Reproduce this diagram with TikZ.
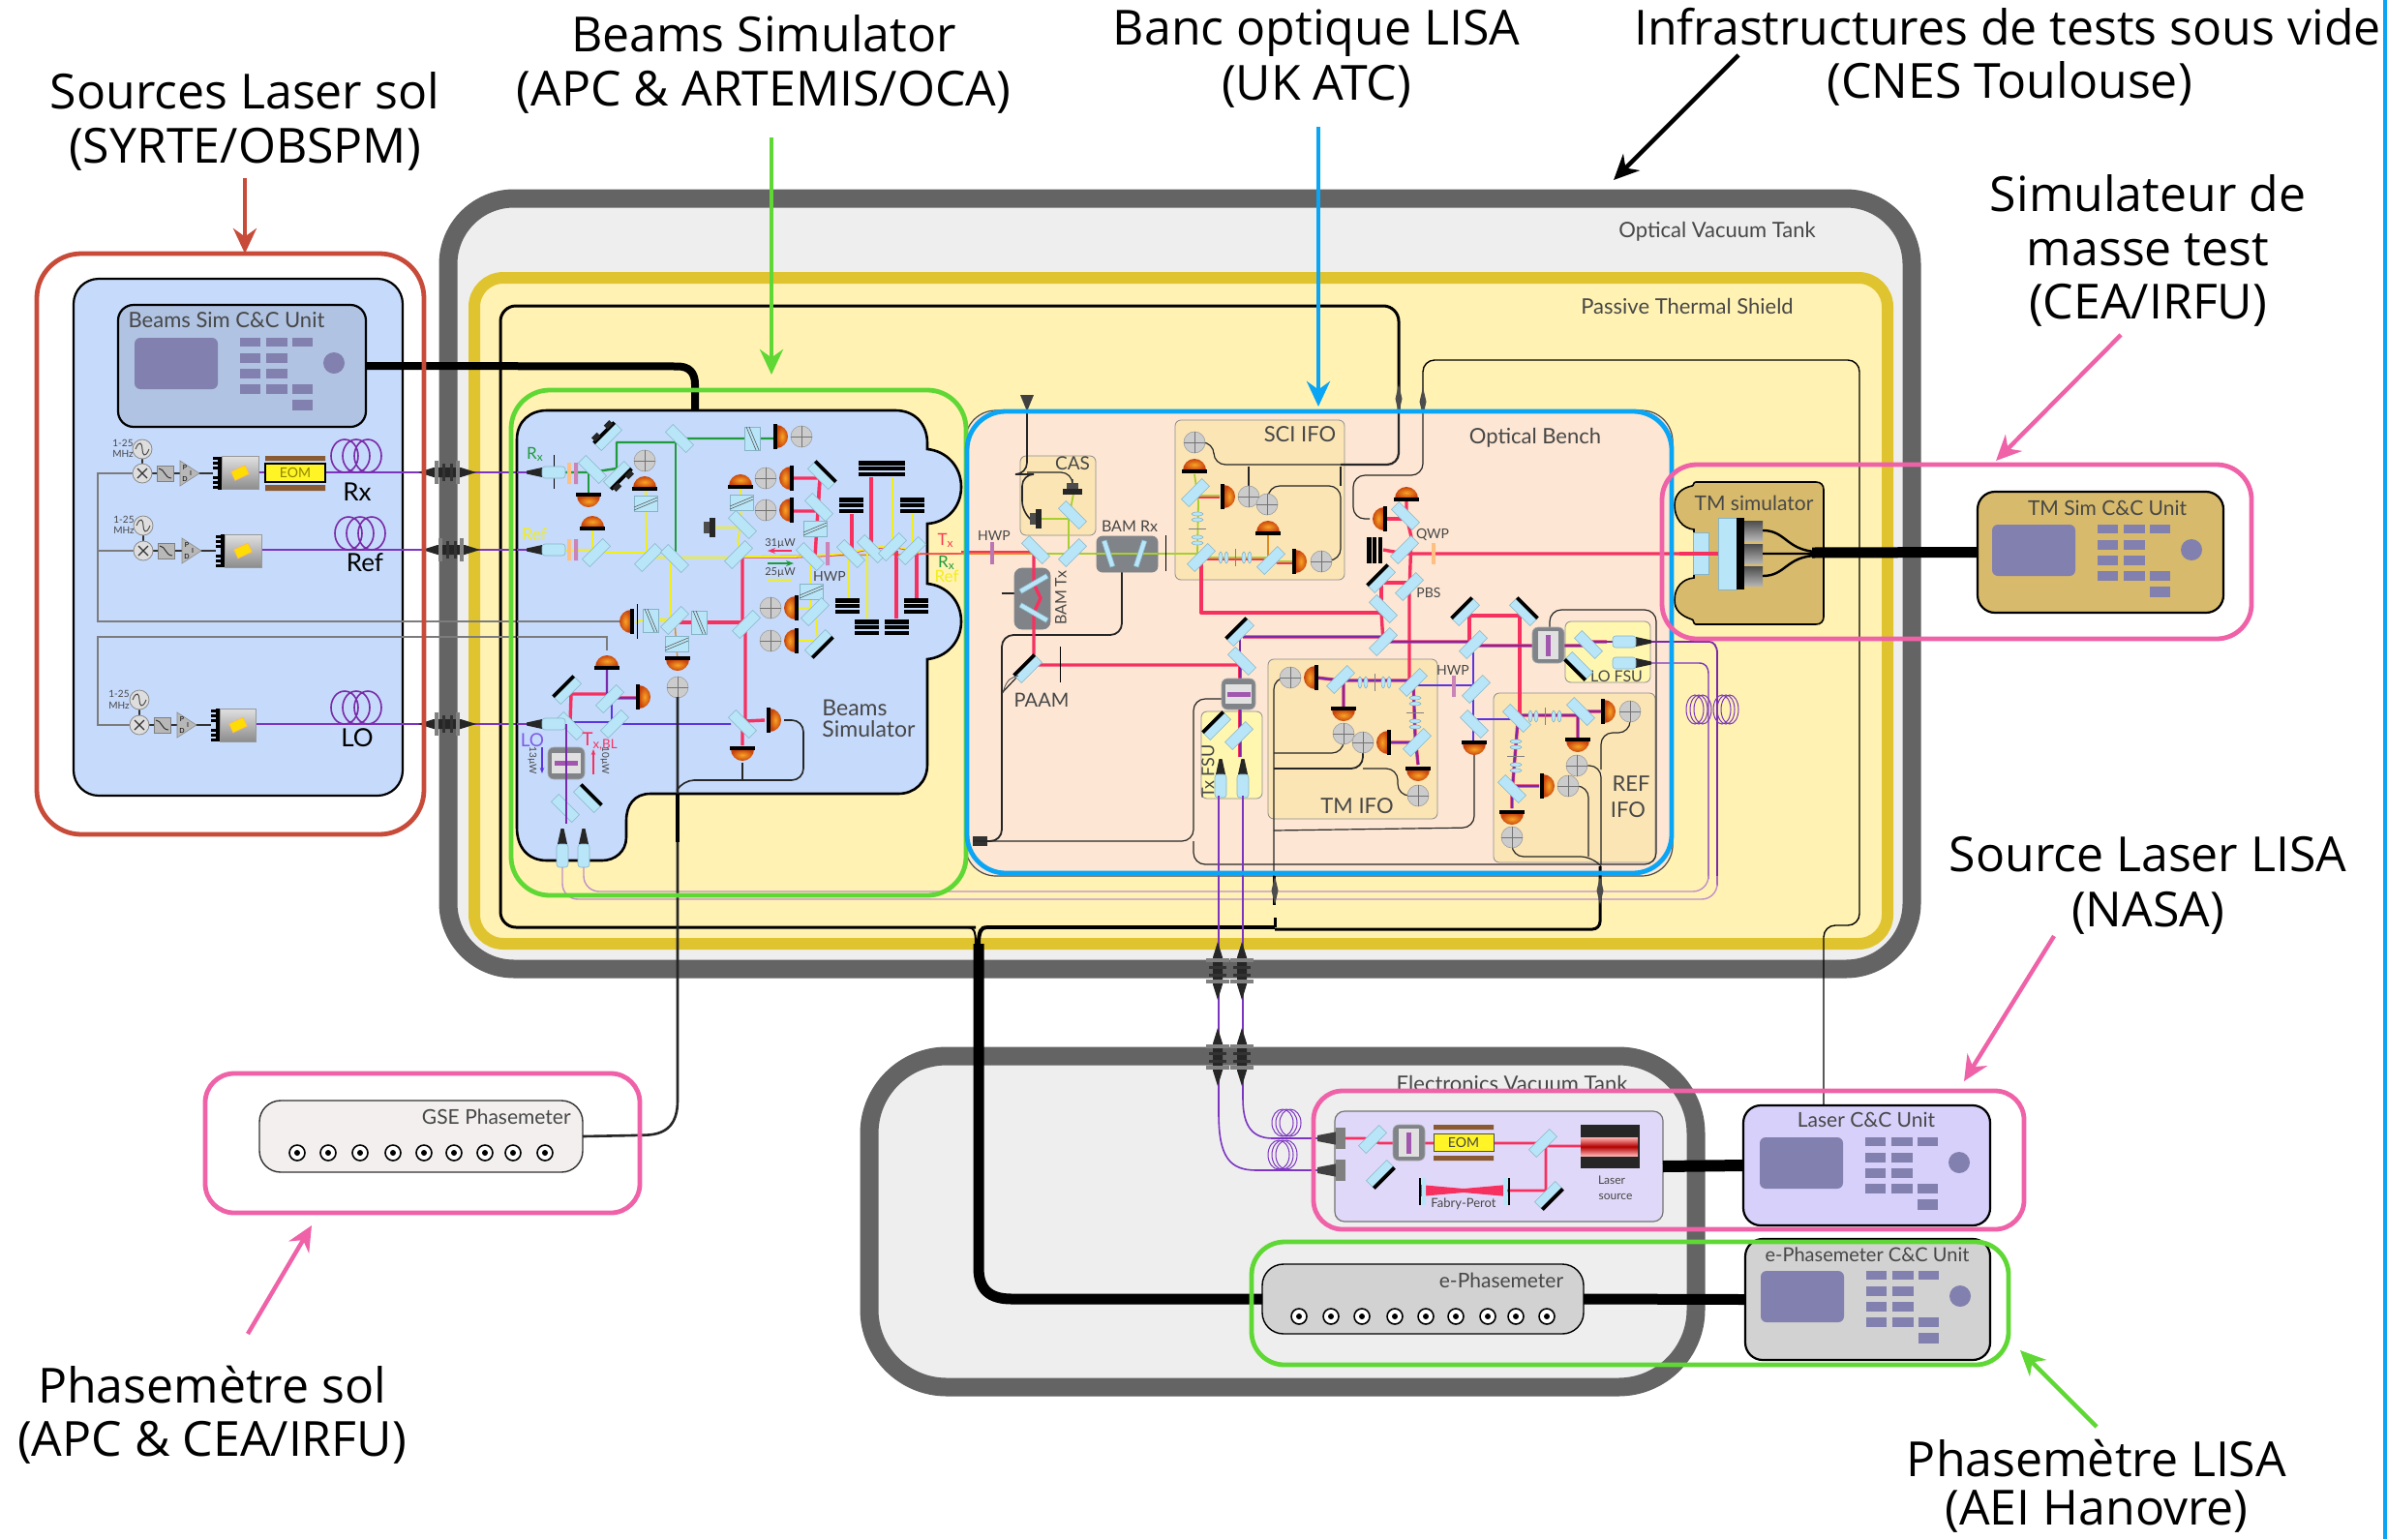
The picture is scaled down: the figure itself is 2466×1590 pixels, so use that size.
\documentclass[tikz,border=0pt]{standalone}
\usepackage{fontspec}
\setmainfont{Lato}
\newfontfamily\titlefont{Open Sans}
\usetikzlibrary{fit,arrows.meta,calc}
\definecolor{tank}{HTML}{646464}\definecolor{tankf}{HTML}{EEEEEE}
\definecolor{shield}{HTML}{E0C42F}\definecolor{shieldf}{HTML}{FFF2B3}
\definecolor{bluebox}{HTML}{C6DAFB}\definecolor{ccblue}{HTML}{B0C3E2}
\definecolor{keyc}{HTML}{8280AE}\definecolor{bench}{HTML}{FDE6D3}
\definecolor{ifo}{HTML}{FBE5B5}\definecolor{fsu}{HTML}{FFF7B0}
\definecolor{tmc}{HTML}{D7BA6B}\definecolor{lasb}{HTML}{E0D8F8}\definecolor{lascc}{HTML}{D7D0FA}
\definecolor{phc}{HTML}{D2D2D2}\definecolor{gsef}{HTML}{F2EFEE}
\definecolor{outR}{HTML}{C84B3A}\definecolor{outG}{HTML}{5FD835}\definecolor{outB}{HTML}{0AA5F5}\definecolor{outP}{HTML}{EF62A8}
\definecolor{cy}{HTML}{B8E6F8}\definecolor{cyb}{HTML}{86B4C6}
\definecolor{bR}{HTML}{F7315F}\definecolor{bY}{HTML}{F2EE1A}\definecolor{bG}{HTML}{1E9B3C}\definecolor{bP}{HTML}{7A2AA8}\definecolor{bB}{HTML}{5B35E0}\definecolor{bO}{HTML}{E08A1E}\definecolor{bL}{HTML}{A8CF30}
\definecolor{fib}{HTML}{7B35C0}\definecolor{fibp}{HTML}{C08FCB}\definecolor{gl}{HTML}{7C7C7C}\definecolor{brn}{HTML}{8A5A32}
\definecolor{modg}{HTML}{808488}
\tikzset{
 tankbox/.style={draw=tank,line width=9.5pt,fill=tankf},
 outline/.style={line width=2.4pt,rounded corners=17pt},
 unit/.style={draw=black,line width=1.1pt},
 thin box/.style={draw=black!45,line width=.4pt,rounded corners=3pt},
 bsf/.style={fill=cy,draw=cyb,line width=.3pt},
 cable/.style={draw=black!85,line width=.6pt,rounded corners=6pt},
 midcable/.style={draw=black,line width=1.5pt,rounded corners=8pt},
 bigcable/.style={draw=black,line width=5.5pt},
 fibre/.style={draw=fib,line width=.7pt,rounded corners=10pt},
 fibrep/.style={draw=fibp,line width=.7pt,rounded corners=8pt},
 grayl/.style={draw=gl,line width=.8pt},
 bred/.style={draw=bR,line width=1.7pt,line join=round},
 byel/.style={draw=bY,line width=.9pt,line join=round},
 bgrn/.style={draw=bG,line width=1.2pt,line join=round},
 bpur/.style={draw=bP,line width=1.1pt,line join=round},
 bblu/.style={draw=bB,line width=.8pt,line join=round},
 borg/.style={draw=bO,line width=.7pt,line join=round},
 blim/.style={draw=bL,line width=.9pt,line join=round},
 lab/.style={font=\fontsize{11}{11}\selectfont,text=black!72,inner sep=0},
 big/.style={font=\titlefont\fontsize{25}{25}\selectfont,text=black,inner sep=0,text height=24.6pt,text depth=6pt},
 call/.style={line width=2.2pt,-{Stealth[length=13pt,width=12pt]}},
}
\newcounter{lc}
\newcommand\LB[3][]{\stepcounter{lc}\node[lab,#1] (lb\thelc) at (#2) {#3};}
\newcommand\BG[2]{\stepcounter{lc}\node[big] (lb\thelc) at (#1) {#2};}
\newcommand\BOX[6][]{\path (#3,#4) coordinate (#2-a) (#5,#6) coordinate (#2-b);
 \node[inner sep=0,outer sep=0,fit=(#2-a)(#2-b),#1] (#2) {};}
\newcommand\BS[3]{\path[bsf,shift={(#1,#2)},rotate=#3] (-15,-5.5) rectangle (15,5.5);}
\newcommand\MR[3]{\begin{scope}[shift={(#1,#2)},rotate=#3]\path[bsf] (-15,-5.5) rectangle (15,5.5);\draw[line width=1.9pt] (-15,5.5)--(15,5.5);\end{scope}}
\newcommand\MP[3]{\begin{scope}[shift={(#1,#2)},rotate=#3]\path[bsf] (-15,-5.5) rectangle (15,5.5);\draw[line width=1.9pt] (-15,5.5)--(15,5.5);\fill[black!85] (-13,5.5) rectangle (-5,11) (5,5.5) rectangle (13,11);\end{scope}}
\definecolor{F7A325}{HTML}{F7A325}\definecolor{C8420C}{HTML}{C8420C}
\newcommand\PD[3]{\begin{scope}[shift={(#1,#2)},rotate=#3]
 \shade[inner color=F7A325,outer color=C8420C] (-12,5) arc[start angle=180,end angle=360,radius=12] -- cycle;
 \fill (-13,4) rectangle (13,8);\end{scope}}
\newcommand\QD[2]{\begin{scope}[shift={(#1,#2)}]\filldraw[fill=black!20,draw=black!38,line width=.3pt] (0,0) circle[radius=11];
 \draw[black!55,line width=.3pt] (-11,0)--(11,0) (0,-11)--(0,11);\end{scope}}
\newcommand\WG[3]{\begin{scope}[shift={(#1,#2)},rotate=#3]\path[bsf] (-12,-8) rectangle (12,8);
 \draw[black!65,line width=.3pt] (-12,4)--(12,-6) (-12,7)--(12,-3);\end{scope}}
\newcommand\LS[3]{\begin{scope}[shift={(#1,#2)},rotate=#3]
 \foreach \o in {-16,-10,8,14}{\path[bsf] (\o,0) ellipse[x radius=2,y radius=6];}
 \draw[black!50,line width=.3pt] (-1,-9)--(-1,9);\end{scope}}
\newcommand\CM[3]{\begin{scope}[shift={(#1,#2)},rotate=#3]\fill[black!85] (-6,-10) rectangle (0,10);\fill[black!70] (0,-6) rectangle (6,6);\end{scope}}
\newcommand\DPH[3]{\foreach \o in {-8,-2.2,3.6}{\fill ($(#1,#2)+(-#3/2,\o)$) rectangle ($(#1,#2)+(#3/2,\o+4.6)$);}}
\newcommand\DPV[3]{\foreach \o in {-8,-2.2,3.6}{\fill ($(#1,#2)+(\o,-#3/2)$) rectangle ($(#1,#2)+(\o+4.6,#3/2)$);}}
\newcommand\CPL[3]{\begin{scope}[shift={(#1,#2)},rotate=#3]\fill[black!85] (-16,-1.5)--(0,-5)--(0,5)--(-16,1.5)--cycle;
 \path[bsf,rounded corners=1.5pt] (0,-6) rectangle (24,6);\end{scope}}
\newcommand\FT[3]{\begin{scope}[shift={(#1,#2)},rotate=#3]
 \fill[black!85] (-30,0)--(-14,-5)--(14,-5)--(30,0)--(14,5)--(-14,5)--cycle;
 \foreach \o in {-11,11}{\fill[black!50] (\o-2,-12) rectangle (\o+2,12);}
 \foreach \o in {-4,4}{\fill[black!80] (\o-1.5,-9) rectangle (\o+1.5,9);}
 \end{scope}}
\newcommand\SP[2]{\fill[black!70] (#1,#2-15)--(#1+3.5,#2)--(#1,#2+15)--(#1-3.5,#2)--cycle;}
\newcommand\COIL[5][bP]{\foreach \o in {-#4,0,#4}{\draw[#1,line width=.8pt] ($(#2,#3)+(\o,0)$) ellipse[x radius=#5,y radius=17];}}
\newcommand\COILS[4]{\foreach \o in {-4,0,4}{\draw[fib,line width=.5pt] ($(#1,#2)+(\o,0)$) ellipse[x radius=#3,y radius=#4];}}
\newcommand\PANEL[2]{\begin{scope}[shift={(#1,#2)}]
 \fill[keyc,rounded corners=3pt] (0,0) rectangle (86,53);
 \foreach \a/\b/\c/\d in {109/130/0/9,136/158/0/9,163/184/0/9,109/130/16/26,136/158/16/26,109/130/32/42,136/158/32/42,109/130/48/58,136/158/48/58,163/184/48/58,163/184/64/75}{\fill[keyc] (\a,\c) rectangle (\b,\d);}
 \fill[keyc] (206,26) circle[radius=11];\end{scope}}
\newcommand\SRC[4]{%
 \begin{scope}[shift={(#1,#2)}]
 \foreach \o in {-15,-10,-5,5,10,15}{\fill (0,\o-1.5) rectangle (9,\o+1.5);}
 \fill (5,-17) rectangle (9,17);
 \shade[top color=black!12,bottom color=black!45] (9,-17) rectangle (#3,17);
 \draw[black!40,line width=.3pt] (9,-17) rectangle (#3,17);
 \begin{scope}[shift={(#4,0)},rotate=25]\filldraw[fill=yellow!80!orange,draw=orange!60,line width=.3pt] (-8,-5) rectangle (8,5);\end{scope}
 \end{scope}}
\newcommand\CHAIN[7]{%
 \draw[black!80,line width=.7pt] (#1,#3)--(#1,#2) (#1,#2)--(#5,#2);
 \filldraw[fill=black!13,draw=black!45,line width=.4pt] (#1,#3) circle[radius=10];
 \draw[black!70,line width=.5pt] (#1-7,#3) .. controls (#1-3,#3-10) and (#1,#3-6) .. (#1,#3) .. controls (#1,#3+6) and (#1+3,#3+10) .. (#1+7,#3);
 \filldraw[fill=black!13,draw=black!45,line width=.4pt] (#1,#2) circle[radius=10];
 \draw[black!80,line width=.6pt] (#1-5,#2-5)--(#1+5,#2+5) (#1-5,#2+5)--(#1+5,#2-5);
 \filldraw[fill=black!28,draw=black!50,line width=.3pt] (#4,#2-8) rectangle (#4+17,#2+8);
 \draw[black!80,line width=.5pt] (#4+2,#2-5) .. controls (#4+8,#2-5) and (#4+8,#2+5) .. (#4+15,#2+5);
 \filldraw[fill=black!28,draw=black!45,line width=.3pt] (#6,#2-13)--(#6+20,#2)--(#6,#2+13)--cycle;
 \node[font=\fontsize{3.5}{3.5}\selectfont,inner sep=0] (pid#7p) at (#6+5,#2-6) {P};
 \node[font=\fontsize{3.5}{3.5}\selectfont,inner sep=0] (pid#7d) at (#6+5,#2+6) {D};
 \node[font=\fontsize{3.5}{3.5}\selectfont,inner sep=0] (pid#7i) at (#6+11,#2) {I};}
\newcommand\MODV[4]{\filldraw[fill=modg,draw=modg!70,line width=.3pt,rounded corners=3pt] (#1,#2) rectangle (#3,#4);
 \path[fill=black!12] (#1+6,#2+4) rectangle (#3-6,#4-4);
 \fill[bP!70!pink] ($(#1,#2)!.5!(#3,#4)+(-2.5,-11)$) rectangle ($(#1,#2)!.5!(#3,#4)+(2.5,11)$);}
\newcommand\MODH[4]{\filldraw[fill=modg,draw=modg!70,line width=.3pt,rounded corners=3pt] (#1,#2) rectangle (#3,#4);
 \path[fill=black!12] (#1+4,#2+6) rectangle (#3-4,#4-6);
 \fill[bP!70!pink] ($(#1,#2)!.5!(#3,#4)+(-12,-2.5)$) rectangle ($(#1,#2)!.5!(#3,#4)+(12,2.5)$);}
\newcommand\CONN[2]{\draw[black,line width=.8pt,fill=white] (#1,#2) circle[radius=8];\fill (#1,#2) circle[radius=3];}
\begin{document}
\begin{tikzpicture}[x=.5pt,y=-.5pt]
\useasboundingbox (0,0) rectangle (2466,1590);
\fill[white] (0,0) rectangle (2466,1590);
\fill[outB] (2462,0) rectangle (2466,1590);
%% tanks
\BOX[tankbox,rounded corners=34pt]{otank}{463}{205}{1975}{1001}
\BOX[tankbox,rounded corners=40pt]{etank}{898}{1091}{1752}{1433}
\BOX[draw=shield,line width=6pt,fill=shieldf,rounded corners=15pt]{pshield}{490}{287}{1950}{975}
\LB{1774,239}{Optical Vacuum Tank}
\LB{1743,316}{Passive Thermal Shield}
\LB{1562,1119}{Electronics Vacuum Tank}
%% units that the long cables end on
\BOX[unit,fill=lascc,rounded corners=9pt]{lcc}{1801}{1142}{2056}{1266}
\BOX[unit,fill=phc,line width=.7pt,rounded corners=11pt]{ephase}{1304}{1306}{1636}{1378}
\BOX[draw=black!80,line width=.7pt,fill=gsef,rounded corners=11pt]{gse}{268}{1137}{602}{1211}
%% long cables behind the benches
\draw[midcable] (1008,958)--(517,958)--(517,316)--(1445,316)--(1445,480)--(1385,480);
\draw[draw=black,line width=.7pt,rounded corners=6pt] (lcc.north -| 1884,0)--(1884,956)--(1921,956)--(1921,372)--(1470,372)--(1470,491)--(1398,491)--(1398,536)--(1415,536);
\fill[black!75] (1054,408)--(1068,408)--(1061,425)--cycle;
\SP{1445}{412}\SP{1470}{415}
%% source box
\BOX[unit,fill=bluebox,rounded corners=13pt]{srcbox}{76}{288}{416}{822}
\BOX[unit,fill=ccblue,rounded corners=8pt]{bscc}{122}{315}{378}{441}
\LB{234,331}{Beams Sim C\&C Unit}
\PANEL{139}{349}
\draw[grayl] (147,489)--(101,489)--(101,642)--(636,642);
\draw[grayl] (101,569)--(148,569);
\draw[grayl] (144,749)--(101,749)--(101,658)--(627,658)--(627,672);
\draw[fib,line width=.8pt] (267,488)--(274,488) (336,488)--(560,488) (270,568)--(560,568) (264,748)--(560,748);
\CHAIN{147}{489}{464}{162}{220}{186}{a}
\CHAIN{148}{569}{543}{163}{223}{188}{b}
\CHAIN{144}{749}{723}{159}{218}{183}{c}
\SRC{220}{488.5}{47}{28}
\SRC{223}{569}{47}{28}
\SRC{218}{749}{46}{28}
\LB[font=\fontsize{5}{5}\selectfont]{127,458}{1-25}\LB[font=\fontsize{5}{5}\selectfont]{127,469}{MHz}
\LB[font=\fontsize{5}{5}\selectfont]{128,537}{1-25}\LB[font=\fontsize{5}{5}\selectfont]{128,548}{MHz}
\LB[font=\fontsize{5}{5}\selectfont]{123,717}{1-25}\LB[font=\fontsize{5}{5}\selectfont]{123,729}{MHz}
\fill[brn] (274,471) rectangle (336,476) (274,501) rectangle (336,507);
\BOX[draw=black,fill=yellow!85,line width=.7pt]{eomS}{274}{479}{336}{498}
\LB[font=\fontsize{7}{7}\selectfont,text=olive]{305,488.5}{EOM}
\COIL{368}{471}{12}{14}\COIL{372}{551}{12}{14}\COIL{368}{731}{12}{14}
\LB[font=\fontsize{13}{13}\selectfont,text=black]{369,508}{Rx}
\LB[font=\fontsize{13}{13}\selectfont,text=black]{377,581}{Ref}
\LB[font=\fontsize{13}{13}\selectfont,text=black]{369,762}{LO}
\draw[draw=black,line width=4pt] (bscc.east)--(700,378.5) .. controls (712,378.5) and (718,385) .. (718,397)--(718,424);
\FT{462}{488}{0}\FT{466}{568}{0}\FT{462}{748}{0}
%% beams simulator
\path[draw=black,line width=1.3pt,fill=bluebox] (565,424) -- (925,424) .. controls (945,424) and (958,438) .. (958,458) -- (958,464) .. controls (978,466) and (993,482) .. (993,503) .. controls (993,524) and (978,540) .. (958,541) -- (958,603) .. controls (978,605) and (993,621) .. (993,642) .. controls (993,663) and (978,679) .. (958,681) -- (958,790) .. controls (958,808) and (945,820) .. (928,820) -- (672,820) .. controls (655,820) and (647,832) .. (647,848) -- (647,865) .. controls (647,880) and (635,889) .. (622,889) -- (565,889) .. controls (545,889) and (534,875) .. (534,855) -- (534,454) .. controls (534,435) and (548,424) .. (565,424) -- cycle;
%% BS: beams
\draw[grayl] (534,642)--(655,642);
\draw[grayl] (534,658)--(627,658)--(627,672);
\draw[fib,line width=.8pt] (534,488)--(545,488) (534,568)--(545,568) (534,748)--(545,748);
\draw[bgrn] (545,488)--(610,488)--(637,484)--(637,457)--(698,457)--(700,453)--(777,453)--(800,453);
\draw[bgrn] (698,453)--(698,570);
\draw[bgrn] (608,488)--(608,510);
\draw[byel] (545,568)--(612,568)--(616,571)--(668,571)--(672,576)--(763,576);
\draw[byel] (612,568)--(612,548);
\draw[byel] (668,571)--(667,507);
\draw[byel] (765,503)--(766,540)--(762,558)--(766,575);
\draw[byel] (738,545)--(765,545);
\draw[byel] (693,572)--(693,638)--(696,640)--(670,639)--(656,643);
\draw[byel] (837,576)--(837,627)--(842,632)--(845,662)--(825,662);
\draw[byel] (825,628)--(840,628);
\draw[bred] (697,643)--(771,643);
\draw[borg] (697,642)--(700,682);\draw[byel] (698,642)--(670,641);
\draw[bred] (767,577)--(767,641)--(770,645)--(770,745);
\draw[bred] (820,494)--(847,494)--(845,528)--(820,528);
\draw[bred] (847,494)--(842,575);
\draw[borg] (763,575)--(993,572);
\draw[bred,line width=.7pt] (763,576)--(820,576)--(860,574)--(878,572)--(900,567)--(922,565)--(942,569)--(950,572)--(1068,572);
\draw[byel] (763,575)--(820,575)--(860,573)--(878,571)--(900,566)--(922,564)--(942,568)--(950,571);
\draw[bred] (880,531)--(880,569) (900,493)--(900,565) (926,569)--(926,639) (947,572)--(947,618);
\draw[byel] (876,572)--(876,618) (896,569)--(896,639) (922,493)--(922,562) (943,531)--(943,565);
\draw[bred] (586,717)--(628,717)--(637,721)--(660,721);
\draw[bred] (565,748)--(589,748)--(590,717);
\draw[bred] (770,745)--(790,744) (767,750)--(767,770);
\draw[bpur] (627,687)--(627,717)--(637,721)--(660,721);
\draw[bblu] (590,746)--(632,746)--(632,722) (632,746)--(642,748)--(755,748);
\draw[bpur] (585,748)--(585,851);
\PD{608}{517}{180}\QD{666}{476}\PD{666}{499}{0}\WG{667}{520}{0}\PD{612}{540}{0}
\draw[black,line width=.3pt] (572,470)--(572,505);
\fill[orange!50] (586,478) rectangle (590,500) (586,557) rectangle (590,579);
\fill[bP!40!pink] (593,478) rectangle (597,500) (593,557) rectangle (597,579) (853,560) rectangle (857,584);
\BS{612}{485}{-45}\MP{628}{451}{225}\MP{638}{491}{45}\BS{702}{453}{-45}
\WG{777}{453}{90}\PD{807}{451}{-90}\QD{828}{451}
\BS{616}{571}{45}\BS{670}{576}{45}\BS{697}{577}{-45}\BS{763}{573}{45}\BS{837}{575}{-45}
\BS{879}{572}{-45}\BS{900}{567}{-45}\BS{922}{565}{45}\BS{942}{569}{45}
\PD{765}{497}{0}\WG{766}{519}{0}\BS{767}{542}{-45}\CM{733}{545}{180}
\QD{791}{494}\PD{812}{494}{90}\QD{791}{527}\PD{812}{527}{90}
\MR{849}{491}{135}\BS{846}{524}{-45}\WG{842}{546}{0}
\DPH{911}{484}{48}\DPH{879.5}{522}{25}\DPH{942.5}{522}{25}\DPH{875.5}{626}{25}\DPH{946.5}{626}{25}\DPH{895.5}{648}{25}\DPH{926.5}{648}{25}
\BS{771}{645}{45}\BS{697}{641}{45}\WG{722}{643}{90}\WG{672}{641}{90}
\draw[black,line width=.3pt] (658,624)--(658,660);\PD{647}{642}{90}
\WG{699}{665}{0}\PD{700}{686}{180}\QD{700}{710}
\WG{838}{611}{0}\BS{842}{632}{45}\QD{796}{628}\PD{817}{628}{90}\QD{796}{662}\PD{817}{662}{90}\MR{846}{665}{45}
\draw[bR,line width=.9pt,-{Stealth[length=4pt]}] (818,569)--(793,569);
\draw[bG,line width=.9pt,-{Stealth[length=4pt]}] (793,582)--(820,582);
\draw[bY,line width=.9pt] (793,599)--(818,599);
\LB[font=\fontsize{5.5}{5.5}\selectfont]{806,561}{31µW}\LB[font=\fontsize{5.5}{5.5}\selectfont]{806,591}{25µW}
\LB[font=\fontsize{7}{7}\selectfont]{857,595}{HWP}
\LB[font=\fontsize{8.5}{8.5}\selectfont,text=bG]{553,469}{R\textsubscript{x}}
\LB[font=\fontsize{9}{9}\selectfont,text=bY]{552,552}{Ref}
\LB[font=\fontsize{8.5}{8.5}\selectfont,text=bR!90!orange]{977,558}{T\textsubscript{x}}
\LB[font=\fontsize{8.5}{8.5}\selectfont,text=bG]{978,581}{R\textsubscript{x}}
\LB[font=\fontsize{8.5}{8.5}\selectfont,text=bY]{978,595}{Ref}
\MR{586}{713}{225}\BS{589}{750}{-45}\BS{630}{722}{45}\BS{635}{748}{45}\PD{627}{684}{0}\PD{665}{720}{-90}
\BS{767}{748}{-45}\PD{800}{744}{-90}\PD{767}{779}{180}
\MODH{566}{772}{604}{805}
\BS{584}{835}{-45}\MR{607}{825}{135}
\CPL{581}{872}{-90}\CPL{603}{872}{-90}
\CPL{560}{488}{0}\CPL{560}{568}{0}\CPL{560}{748}{0}
\draw[bpur] (585,748)--(585,851);
\LB[font=\fontsize{9.5}{9.5}\selectfont,text=bB!80]{550,765}{LO}
\LB[font=\fontsize{9.5}{9.5}\selectfont,text=bR]{620,766}{T\textsubscript{x,BL}}
\draw[bB,line width=.7pt,-{Stealth[length=3pt]}] (560,772)--(560,799);
\draw[bR,line width=.7pt,-{Stealth[length=3pt]}] (613,800)--(613,774);
\LB[font=\fontsize{5}{5}\selectfont,rotate=-90]{550,786}{13µW}\LB[font=\fontsize{5}{5}\selectfont,rotate=-90]{625,786}{10µW}
\LB[font=\fontsize{11.5}{12}\selectfont,anchor=west]{849,731}{Beams}\LB[font=\fontsize{11.5}{12}\selectfont,anchor=west]{849,753}{Simulator}
%% optical bench
\BOX[draw=black!70,line width=.6pt,fill=bench,rounded corners=16pt]{obench}{997}{424}{1728}{905}
\LB[font=\fontsize{11}{11}\selectfont]{1586,452}{Optical Bench}
\BOX[thin box,fill=ifo]{cas}{1054}{471}{1132}{553}
\BOX[thin box,fill=ifo]{sci}{1214}{434}{1389}{599}
\BOX[thin box,fill=ifo]{tmifo}{1310}{681}{1485}{846}
\BOX[thin box,fill=ifo]{refifo}{1543}{716}{1710}{891}
\BOX[thin box,fill=fsu]{txfsu}{1241}{735}{1304}{825}
\BOX[thin box,fill=fsu]{lofsu}{1617}{642}{1705}{705}
\LB[font=\fontsize{9.5}{9.5}\selectfont]{1108,479}{CAS}
\LB[font=\fontsize{11}{11}\selectfont]{1343,449}{SCI IFO}
\LB[font=\fontsize{11}{11}\selectfont]{1402,833}{TM IFO}
\LB[font=\fontsize{11}{11}\selectfont]{1685,810}{REF}
\LB[font=\fontsize{11}{11}\selectfont]{1682,837}{IFO}
\LB[font=\fontsize{9}{9}\selectfont,rotate=90]{1248,797}{Tx FSU}
\LB[font=\fontsize{8}{8}\selectfont]{1670,699}{LO FSU}
%% bench cables
\draw[cable,line width=.8pt] (1061,424)--(1061,490)--(1056,490)--(1056,530)--(1064,536);
\draw[cable] (1061,488)--(1108,488)--(1108,495);
\draw[cable,line width=1.1pt] (1445,424)--(1445,480)--(1385,480);
\draw[cable] (1385,480)--(1254,480)--(1254,457)--(1245,457);
\draw[cable] (1470,424)--(1470,491)--(1398,491)--(1398,536)--(1415,536);
\draw[cable,line width=.9pt] (1008,869)--(1035,869)--(1035,656)--(1159,656)--(1159,591);
\fill[black!80] (1005,864) rectangle (1020,874);
\draw[cable] (1035,613)--(1048,613);
\draw[cable] (1035,716)--(1050,700);
\draw[cable] (1005,869)--(1233,869)--(1233,722)--(1262,722);
\draw[cable] (1233,869)--(1233,893)--(1711,893)--(1711,630)--(1601,630)--(1601,648);
\draw[cable] (1290,503)--(1290,482);
\draw[cable] (1310,513)--(1310,502)--(1385,502)--(1385,579)--(1373,579);
\draw[cable] (1385,502)--(1385,482);
\draw[cable] (1325,700)--(1316,700)--(1316,905);
\draw[cable] (1316,778)--(1388,778)--(1388,768);
\draw[cable,line width=.9pt] (1316,794)--(1408,794)--(1408,778);
\draw[cable] (1408,794)--(1444,794)--(1444,822)--(1455,822);
\draw[cable] (1523,780)--(1523,855)--(1316,858);
\draw[cable] (1562,870)--(1562,885)--(1645,885)--(1654,895);
\draw[cable] (1628,812)--(1641,812)--(1641,885);
\draw[cable] (1637,791)--(1654,791)--(1654,893);
\draw[cable] (1684,745)--(1684,757)--(1654,757)--(1654,795);
%% optical bench beams
\draw[blim] (1068,572)--(1237,572);\draw[blim] (1104,572)--(1104,536)--(1070,536) (1104,536)--(1109,510);
\draw[borg] (993,572)--(1068,572);
\draw[bred,line width=.8pt] (993,570)--(1068,570);
\draw[bred] (1068,572)--(1068,603)--(1075,618)--(1068,633)--(1068,687)--(1279,687);
\draw[bred] (1241,576)--(1241,633)--(1427,633)--(1427,602)--(1456,602);
\draw[blim] (1237,572)--(1241,576)--(1310,576)--(1310,553) (1310,576)--(1320,580)--(1335,580);
\draw[bred,line width=.8pt] (1241,578)--(1310,578)--(1320,582)--(1335,582);
\draw[borg] (1310,576)--(1310,553);
\draw[blim] (1237,572)--(1238,518)--(1234,490) (1238,512)--(1260,512);
\draw[bred,line width=.8pt] (1238,514)--(1260,514);
\draw[bred] (1735,572)--(1451,572)--(1429,568);
\draw[bred] (1453,515)--(1453,533)--(1458,555)--(1456,610)--(1456,703);
\draw[bred] (1452,536)--(1432,536);
\draw[bred] (1429,663)--(1427,633);
\draw[bred] (1518,663)--(1518,636)--(1574,636);
\draw[bred] (1570,636)--(1570,740);
\draw[bred] (1281,682)--(1281,782);\draw[bpur] (1281,682)--(1281,782);
\draw[bred] (1284,658)--(1427,658)--(1432,663)--(1519,663)--(1525,667)--(1635,667)--(1645,663)--(1660,663);
\draw[bpur] (1284,658)--(1427,658)--(1432,663)--(1519,663)--(1525,667)--(1635,667)--(1645,663)--(1660,663);
\draw[bpur] (1281,655)--(1281,690);
\draw[bblu] (1460,708)--(1530,708) (1522,666)--(1522,767);
\draw[bblu] (1523,743)--(1561,743);
\foreach \s in {bred,bpur}{
\draw[\s] (1360,700)--(1385,703)--(1460,703)--(1462,760)--(1465,790) (1462,767)--(1437,767) (1388,703)--(1388,730);
\draw[\s] (1570,739)--(1630,739)--(1640,735)--(1655,735) (1630,739)--(1630,762) (1568,745)--(1562,820)--(1562,835) (1562,812)--(1590,812);}
\draw[bP,line width=.9pt] (1660,663)--(1766,663) .. controls (1770,663) and (1774,667) .. (1774,675)--(1774,915);
\path[draw=fib,line width=.7pt] (1700,685)--(1755,685) .. controls (1762,685) and (1765,689) .. (1765,697)--(1765,908);
\draw[fibrep] (1765,905)--(1765,921)--(603,921)--(603,896);
\draw[fibrep] (1774,905)--(1774,929)--(581,929)--(581,896);
\COILS{1755}{733}{9}{15}\COILS{1783}{733}{9}{15}
%% elements
\fill[bP!50!pink] (1023,560) rectangle (1027,583);
\BS{1070}{568}{-45}\BS{1108}{571}{45}\BS{1108}{532}{-45}\CM{1070}{536}{180}\CM{1108}{505}{90}
\filldraw[fill=modg,draw=modg,rounded corners=3pt] (1133,554) rectangle (1196,591);
\filldraw[fill=modg,draw=modg,rounded corners=4pt] (1048,587) rectangle (1085,650);
\draw[blim] (1133,572)--(1196,572);
\draw[bred] (1068,587)--(1068,603)--(1075,618)--(1068,633)--(1068,650);
\begin{scope}[shift={(1145,572)},rotate=-72]\path[bsf] (-14,-2.5) rectangle (14,2.5);\end{scope}
\begin{scope}[shift={(1178,572)},rotate=72]\path[bsf] (-14,-2.5) rectangle (14,2.5);\end{scope}
\begin{scope}[shift={(1068,603)},rotate=30]\path[bsf] (-16,-2.5) rectangle (16,2.5);\end{scope}
\begin{scope}[shift={(1068,633)},rotate=-30]\path[bsf] (-16,-2.5) rectangle (16,2.5);\end{scope}
\LB[font=\fontsize{8}{8}\selectfont]{1167,544}{BAM Rx}
\LB[font=\fontsize{8}{8}\selectfont,rotate=90]{1096,618}{BAM Tx}
\LB[font=\fontsize{7}{7}\selectfont]{1027,553}{HWP}
\LB[font=\fontsize{7}{7}\selectfont]{1480,552}{QWP}
\LB[font=\fontsize{7}{7}\selectfont]{1476,612}{PBS}
\LB[font=\fontsize{7}{7}\selectfont]{1501,692}{HWP}
\draw[black,line width=.3pt] (1204,553)--(1204,590) (1095,668)--(1095,705);
\fill[orange!50] (1479,561) rectangle (1483,583);
\fill[bP!40!pink] (1500,698) rectangle (1504,720);
\MR{1062}{691}{-135}
\draw[black!70,line width=.4pt] (1036,716) .. controls (1040,700) and (1046,700) .. (1052,698);
\LB[font=\fontsize{10}{10}\selectfont]{1076,723}{PAAM}
\QD{1234}{457}\PD{1234}{481}{0}\BS{1235}{509}{45}\PD{1269}{513}{-90}\QD{1290}{513}\QD{1309}{521}\PD{1310}{545}{0}
\BS{1313}{579}{45}\PD{1343}{580}{-90}\QD{1365}{580}\BS{1241}{576}{45}
\LS{1237}{545}{90}\LS{1277}{576}{0}
\BS{1429}{629}{-45}\MR{1427}{598}{225}\BS{1456}{606}{45}\BS{1451}{568}{45}\DPV{1420}{568}{27}
\BS{1452}{533}{-45}\PD{1425}{536}{90}\PD{1453}{510}{0}
\MR{1514}{632}{225}\MR{1574}{632}{135}
\BS{1429}{663}{45}\BS{1522}{666}{45}\MR{1281}{653}{225}\BS{1283}{683}{-45}\BS{1641}{666}{-45}
\MODH{1262}{701}{1297}{733}
\draw[bpur] (1281,733)--(1281,782);
\BS{1280}{760}{45}\MR{1257}{750}{225}
\CPL{1261}{800}{-90}\CPL{1284}{800}{-90}
\MODV{1583}{648}{1616}{685}
\MR{1631}{688}{-45}
\CPL{1690}{663}{180}\CPL{1690}{685}{180}
\QD{1333}{700}\PD{1354}{700}{90}\BS{1385}{702}{45}\PD{1388}{738}{180}\QD{1388}{758}\QD{1408}{767}\PD{1429}{767}{90}
\BS{1464}{767}{45}\PD{1465}{800}{180}\QD{1465}{822}\BS{1460}{705}{45}\LS{1462}{735}{90}\LS{1421}{705}{0}
\BS{1525}{712}{45}\BS{1523}{748}{-45}\PD{1523}{773}{180}
\BS{1567}{742}{-45}\LS{1597}{740}{0}\BS{1633}{735}{-45}\PD{1662}{735}{-90}\QD{1684}{735}\PD{1630}{770}{180}\QD{1629}{791}
\LS{1566}{780}{90}\BS{1562}{815}{-45}\PD{1599}{812}{-90}\QD{1620}{812}\PD{1562}{845}{180}\QD{1562}{865}
%% lower cables and feedthroughs
\draw[draw=black,line width=2pt] (1019,958)--(1317,958);
\draw[draw=black,line width=1.5pt,rounded corners=4pt] (1317,960)--(1653,960)--(1653,895);
\draw[draw=black,line width=1.5pt] (1317,948)--(1317,958) (1316,905)--(1316,935);
\SP{1317}{920}\SP{1653}{920}
\draw[draw=black,line width=1pt] (1000,958) .. controls (1006,958) and (1008,962) .. (1008,975);
\draw[draw=black,line width=2pt] (1019,958) .. controls (1014,958) and (1011,962) .. (1011,975);
\draw[bigcable] (1011,975)--(1011,1310) .. controls (1011,1332) and (1022,1342) .. (1045,1342)--(ephase.west);
\draw[cable,line width=1.3pt] (700,720)--(700,1125) .. controls (700,1160) and (690,1172) .. (655,1173)--(gse.east);
\draw[cable,line width=.8pt] (810,744)--(830,744)--(830,806)--(705,806)--(700,815);
\draw[cable,line width=.8pt] (767,788)--(767,806);
\draw[draw=black,line width=2pt] (700,820)--(700,870);
\draw[fibre] (1259,822)--(1259,1105);\draw[fibre] (1284,822)--(1284,1105);
\path[draw=fib,line width=.8pt] (1259,1105)--(1259,1150) .. controls (1259,1195) and (1270,1209) .. (1298,1209)--(1361,1209);
\path[draw=fib,line width=.8pt] (1284,1105)--(1284,1135) .. controls (1284,1165) and (1295,1176) .. (1315,1176)--(1361,1176);
\FT{1258}{1003}{90}\FT{1283}{1003}{90}\FT{1258}{1092}{90}\FT{1283}{1092}{90}
\COILS{1329}{1160}{11}{14}\COILS{1325}{1193}{11}{15}
%% laser
\BOX[draw=black!55,line width=.6pt,fill=lasb,rounded corners=5pt]{lbench}{1379}{1148}{1718}{1262}
\LB[font=\fontsize{10.5}{10.5}\selectfont]{1928,1157}{Laser C\&C Unit}
\PANEL{1818}{1175}
\draw[bigcable,line width=6pt] (lbench.east)--(lcc.west);
\draw[bR,line width=1.4pt,line join=round] (1390,1176)--(1410,1176)--(1425,1181)--(1594,1181)--(1597,1184)--(1633,1184) (1597,1184)--(1597,1230)--(1557,1230);
\foreach \yy in {1176,1209}{\fill[black!75] (1361,\yy-3)--(1382,\yy-7)--(1382,\yy+7)--(1361,\yy+3)--cycle;\fill[black!50] (1380,\yy-11) rectangle (1390,\yy+11);}
\BS{1418}{1177}{45}\MR{1426}{1213}{45}\BS{1594}{1181}{45}\MR{1600}{1235}{45}
\MODV{1439}{1162}{1472}{1199}
\fill[brn] (1481,1162) rectangle (1543,1167) (1481,1194) rectangle (1543,1199);
\BOX[draw=black!70,fill=yellow!85,line width=.5pt]{eomL}{1481}{1171}{1543}{1189}
\LB[font=\fontsize{7}{7}\selectfont]{1512,1180}{EOM}
\fill[black!85] (1633,1162) rectangle (1694,1207);
\shade[top color=red!30!white,bottom color=red!30!white,middle color=red!70!black] (1633,1175) rectangle (1692,1194);
\fill[bR] (1467,1224)--(1512,1228)--(1557,1224)--(1557,1236)--(1512,1232)--(1467,1236)--cycle;
\fill[cy] (1469,1217) rectangle (1473,1245) (1553,1217) rectangle (1557,1245);
\draw[line width=.8pt] (1467,1217)--(1467,1245) (1559,1217)--(1559,1245);
\LB[font=\fontsize{6.5}{6.5}\selectfont]{1512,1244}{Fabry-Perot}
\LB[font=\fontsize{6}{6}\selectfont]{1665,1219}{Laser}\LB[font=\fontsize{6}{6}\selectfont]{1669,1236}{source}
%% phasemeter
\LB[font=\fontsize{10.5}{10.5}\selectfont]{1551,1323}{e-Phasemeter}
\foreach \xx in {1342,1375,1407,1441,1473,1504,1537,1566,1598}{\CONN{\xx}{1360}}
\BOX[unit,fill=phc,rounded corners=9pt]{epcc}{1803}{1280}{2056}{1405}
\LB[font=\fontsize{10}{10}\selectfont]{1929,1296}{e-Phasemeter C\&C Unit}
\PANEL{1819}{1313}
\draw[bigcable] (ephase.east)--(epcc.west);
%% GSE
\LB[font=\fontsize{10.5}{10.5}\selectfont,anchor=east]{590,1154}{GSE Phasemeter}
\foreach \xx in {307,339,372,406,438,469,501,530,563}{\CONN{\xx}{1191}}
%% TM sim
\path[draw=black,line width=.8pt,fill=tmc] (1752,498)--(1876,498)..controls (1881,498) and (1884,501)..(1884,506)--(1884,637)..controls (1884,642) and (1881,645)..(1876,645)--(1752,645)..controls (1749,645) and (1750,640)..(1748,640)..controls (1736,636) and (1730,630)..(1730,620)..controls (1730,607) and (1738,598)..(1750,597)--(1750,547)..controls (1738,546) and (1730,535)..(1730,522)..controls (1730,510) and (1738,504)..(1748,502)..controls (1750,502) and (1749,498)..(1752,498)--cycle;
\BOX[unit,fill=tmc,rounded corners=9pt]{tmcc}{2043}{508}{2297}{633}
\LB[font=\fontsize{10.5}{10.5}\selectfont]{1812,520}{TM simulator}
\LB[font=\fontsize{10.5}{10.5}\selectfont]{2177,525}{TM Sim C\&C Unit}
\PANEL{2058}{542}
\path[bsf] (1749,550) rectangle (1765,593);
\draw[bred] (1735,572)--(1775,572);
\path[bsf] (1775,535) rectangle (1794,609);
\fill (1794,535) rectangle (1802,609);
\foreach \yy in {538,562,585}{\shade[top color=black!70,bottom color=black!30] (1802,\yy) rectangle (1821,\yy+20);}
\draw[black,line width=1.2pt] (1821,548) .. controls (1845,548) and (1845,568) .. (1876,570) (1821,572)--(1876,572) (1821,595) .. controls (1845,595) and (1845,575) .. (1876,574);
\draw[bigcable] (1872,571)--(tmcc.west);
%% highlight outlines
\BOX[draw=outR,outline,rounded corners=23pt]{rRed}{38}{262}{438}{862}
\BOX[draw=outG,outline,rounded corners=20pt]{rGreenA}{528}{403}{998}{925}
\BOX[draw=outB,outline,rounded corners=20pt]{rBlue}{999}{425}{1727}{902}
\BOX[draw=outP,outline,rounded corners=18pt]{rTM}{1717}{480}{2326}{660}
\BOX[draw=outP,outline,rounded corners=15pt]{rLaser}{1357}{1127}{2091}{1270}
\BOX[draw=outG,outline,rounded corners=17pt]{rPhi}{1293}{1283}{2075}{1410}
\BOX[draw=outP,outline,rounded corners=15pt]{rGSE}{212}{1109}{661}{1253}
%% titles
\BG{253,94}{Sources Laser sol}\BG{253,150}{(SYRTE/OBSPM)}
\BG{789,35}{Beams Simulator}\BG{789,91}{(APC \& ARTEMIS/OCA)}
\BG{1360,28}{Banc optique LISA}\BG{1360,85}{(UK ATC)}
\BG{2074,28}{Infrastructures de tests sous vide}\BG{2076,83}{(CNES Toulouse)}
\BG{2219,200}{Simulateur de}\BG{2219,256}{masse test}\BG{2219,311}{(CEA/IRFU)}
\BG{2219,882}{Source Laser LISA}\BG{2219,939}{(NASA)}
\BG{219,1431}{Phasemètre sol}\BG{219,1486}{(APC \& CEA/IRFU)}
\BG{2166,1507}{Phasemètre LISA}\BG{2166,1557}{(AEI Hanovre)}
%% call-outs
\coordinate (cA0) at (253,184);\coordinate (cB0) at (797,142);\coordinate (cC0) at (1362,131);\coordinate (cD0) at (1796,57);
\coordinate (cE0) at (2191,346);\coordinate (cF0) at (2122,967);\coordinate (cG0) at (256,1378);\coordinate (cH0) at (2166,1474);
\draw[call,draw=outR] (cA0)--(rRed.north -| cA0);
\draw[call,draw=outG] (cB0)--(797,387);
\draw[call,draw=outB] (cC0)--(1362,420);
\draw[call,draw=black] (cD0)--(1667,186);
\draw[call,draw=outP] (cE0)--(2062,476);
\draw[call,draw=outP] (cF0)--(2029,1117);
\draw[call,draw=outP] (cG0)--(322,1266);
\draw[call,draw=outG] (cH0)--(2087,1395);
\end{tikzpicture}
\end{document}
